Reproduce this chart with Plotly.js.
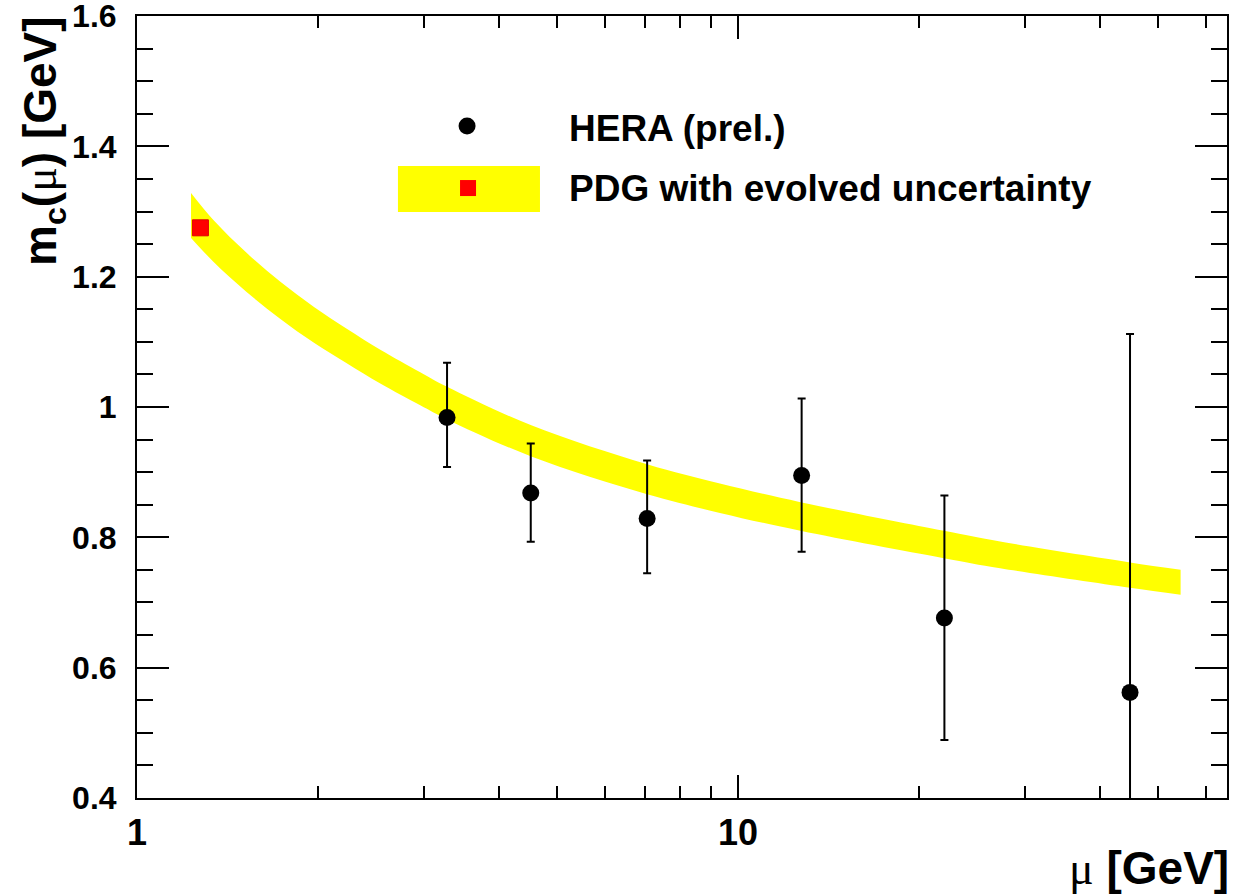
<!DOCTYPE html>
<html>
<head>
<meta charset="utf-8">
<script src="https://cdn.plot.ly/plotly-3.0.1.min.js"></script>
<style>html,body{margin:0;padding:0;background:#fff;}</style>
</head>
<body>
<div id="chart" style="width:1242px;height:894px;"></div>
<script>
// HERA (prel.) measurements of m_c(mu)
const heraMu = [3.28, 4.52, 7.06, 12.76, 22.05, 44.9];
const heraMc = [0.984, 0.868, 0.829, 0.895, 0.676, 0.562];
const heraErrPlus = [0.084, 0.076, 0.089, 0.118, 0.188, 0.550];
const heraErrMinus = [0.076, 0.075, 0.084, 0.117, 0.187, 0.550];

// PDG value
const pdgMu = [1.275];
const pdgMc = [1.275];

// PDG evolved uncertainty band (upper / lower edge)
const bandMu = [1.23, 1.34, 1.52, 1.73, 1.97, 2.23, 2.54, 2.96, 3.28, 4.53, 7.06, 9.33, 12.7, 22.0, 27.3, 44.9, 54.5];
const bandHigh = [1.3285, 1.287, 1.237, 1.1925, 1.1535, 1.1205, 1.088, 1.0535, 1.031, 0.972, 0.912, 0.8825, 0.854, 0.810, 0.7935, 0.7615, 0.7502];
const bandLow = [1.2595, 1.223, 1.177, 1.1355, 1.0985, 1.0675, 1.036, 1.0025, 0.981, 0.924, 0.866, 0.8375, 0.810, 0.768, 0.7525, 0.7225, 0.7118];

// axis ticks
const xTickVals = [1, 10];
const xTickText = ['1', '10'];
const xMinorVals = [2, 3, 4, 5, 6, 7, 8, 9, 20, 30, 40, 50, 60];
const yTickVals = [0.4, 0.6, 0.8, 1.0, 1.2, 1.4, 1.6];
const yTickText = ['0.4', '0.6', '0.8', '1', '1.2', '1.4', '1.6'];

const FONT = 'Liberation Sans, Arial, Helvetica, sans-serif';
const SERIF = 'Liberation Serif, Times New Roman, serif';

const traces = [
  {
    x: bandMu, y: bandLow, mode: 'lines', type: 'scatter',
    line: {width: 0, shape: 'spline', color: 'rgba(255,255,0,0)'},
    hoverinfo: 'skip', showlegend: false
  },
  {
    x: bandMu, y: bandHigh, mode: 'lines', type: 'scatter',
    line: {width: 0, shape: 'spline', color: 'rgba(255,255,0,0)'},
    fill: 'tonexty', fillcolor: '#ffff00',
    hoverinfo: 'skip', showlegend: false
  },
  {
    x: pdgMu, y: pdgMc, mode: 'markers', type: 'scatter',
    marker: {symbol: 'square', size: 16, color: '#ff0000', line: {width: 1, color: '#e00000'}},
    showlegend: false
  },
  {
    x: heraMu, y: heraMc, mode: 'markers', type: 'scatter',
    marker: {symbol: 'circle', size: 17, color: '#000000'},
    error_y: {type: 'data', symmetric: false, array: heraErrPlus, arrayminus: heraErrMinus,
              color: '#000000', thickness: 2, width: 4},
    showlegend: false
  }
];

const layout = {
  width: 1242, height: 894,
  margin: {l: 137, r: 15, t: 16, b: 96, pad: 0},
  paper_bgcolor: '#ffffff', plot_bgcolor: '#ffffff',
  showlegend: false,
  font: {family: FONT, color: '#000'},
  xaxis: {
    type: 'log', range: [0, 1.8136],
    showgrid: false, zeroline: false,
    showline: true, linecolor: '#000', linewidth: 2, mirror: 'allticks',
    ticks: 'inside', ticklen: 23, tickwidth: 2, tickcolor: '#000',
    tickmode: 'array', tickvals: xTickVals, ticktext: xTickText,
    tickfont: {family: FONT, size: 36, weight: 'bold', color: '#000'},
    ticklabelstandoff: 2,
    ticklabeloverflow: 'allow',
    minor: {tickmode: 'array', tickvals: xMinorVals, ticks: 'inside', ticklen: 12, tickwidth: 2, tickcolor: '#000', showgrid: false}
  },
  yaxis: {
    range: [0.3999, 1.6001],
    showgrid: false, zeroline: false,
    showline: true, linecolor: '#000', linewidth: 2, mirror: 'allticks',
    ticks: 'inside', ticklen: 32, tickwidth: 2, tickcolor: '#000',
    tickmode: 'array', tickvals: yTickVals, ticktext: yTickText,
    tickfont: {family: FONT, size: 32, weight: 'bold', color: '#000'},
    ticklabelstandoff: 12,
    ticklabeloverflow: 'allow',
    minor: {dtick: 0.05, tick0: 0.4, ticks: 'inside', ticklen: 16, tickwidth: 2, tickcolor: '#000', showgrid: false}
  },
  shapes: [
    // legend: HERA marker
    {type: 'circle', xref: 'paper', yref: 'paper', xsizemode: 'pixel', ysizemode: 'pixel',
     xanchor: 0.3028, yanchor: 0.8593, x0: -8.5, x1: 8.5, y0: -8.5, y1: 8.5,
     fillcolor: '#000', line: {width: 0}},
    // legend: PDG band box
    {type: 'rect', xref: 'paper', yref: 'paper', x0: 0.2394, x1: 0.3697, y0: 0.7494, y1: 0.8082,
     fillcolor: '#ffff00', line: {width: 0}},
    // legend: PDG red square
    {type: 'rect', xref: 'paper', yref: 'paper', xsizemode: 'pixel', ysizemode: 'pixel',
     xanchor: 0.3037, yanchor: 0.7800, x0: -8, x1: 8, y0: -8, y1: 8,
     fillcolor: '#ff0000', line: {width: 0}}
  ],
  annotations: [
    {xref: 'paper', yref: 'paper', x: 0.3945, y: 0.8555, xanchor: 'left', yanchor: 'middle',
     text: 'HERA (prel.)', showarrow: false,
     font: {family: FONT, size: 37, weight: 'bold', color: '#000'}},
    {xref: 'paper', yref: 'paper', x: 0.3945, y: 0.7788, xanchor: 'left', yanchor: 'middle',
     text: 'PDG with evolved uncertainty', showarrow: false,
     font: {family: FONT, size: 37, weight: 'bold', color: '#000'}},
    // x axis title
    {xref: 'paper', yref: 'paper', x: 1.0, xshift: 4, y: -0.09, xanchor: 'right', yanchor: 'middle',
     text: '<span style="font-family:' + SERIF + ';font-weight:normal">μ</span> [GeV]', showarrow: false,
     font: {family: FONT, size: 46, weight: 'bold', color: '#000'}},
    // y axis title
    {xref: 'paper', yref: 'paper', x: 0, xshift: -94, y: 1.0, yshift: 2, xanchor: 'center', yanchor: 'top',
     textangle: -90,
     text: 'm<sub>c</sub>(<span style="font-family:' + SERIF + ';font-weight:normal">μ</span>) [GeV]', showarrow: false,
     font: {family: FONT, size: 46, weight: 'bold', color: '#000'}}
  ]
};

Plotly.newPlot('chart', traces, layout, {staticPlot: true, displayModeBar: false});
</script>
</body>
</html>
